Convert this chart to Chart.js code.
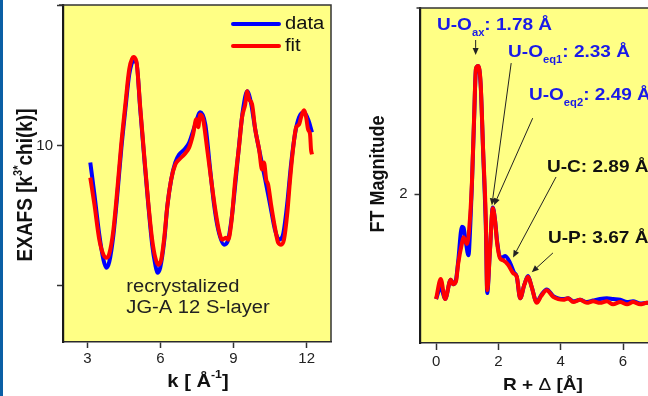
<!DOCTYPE html>
<html><head><meta charset="utf-8">
<script src="https://cdn.jsdelivr.net/npm/chart.js@4/dist/chart.umd.min.js"></script>
<style>
html,body{margin:0;padding:0;width:648px;height:396px;overflow:hidden;background:#fff;}
#strip{position:absolute;left:0;top:0;width:3px;height:396px;background:#0b5fa5;}
#c1{position:absolute;left:0;top:0;}
#c2{position:absolute;left:340px;top:0;}
</style></head><body>
<div id="strip"></div>
<canvas id="c1" width="340" height="396"></canvas>
<canvas id="c2" width="400" height="396"></canvas>
<script>
// ---------- Left panel: EXAFS ----------
const kData = [3.12,3.29,3.49,3.66,3.78,3.90,4.07,4.23,4.39,4.56,4.72,4.89,5.01,5.17,5.34,5.50,5.66,5.79,5.87,5.99,6.16,6.28,6.44,6.61,6.77,6.98,7.18,7.43,7.63,7.84,8.04,8.20,8.37,8.61,8.78,8.94,9.11,9.27,9.39,9.56,9.72,9.89,10.09,10.30,10.50,10.70,10.87,11.03,11.20,11.36,11.52,11.69,11.89,12.06,12.22];
const chiData = [8.79,6.50,3.64,1.86,1.29,1.71,3.64,6.50,9.71,12.57,15.07,16.0,15.93,12.57,9.0,5.79,2.93,1.50,0.93,1.29,3.29,5.64,7.57,8.79,9.36,9.71,10.21,11.5,12.36,11.5,8.29,5.79,4.0,2.93,3.29,5.07,7.93,10.79,12.57,13.86,13.0,11.14,9.36,7.57,5.79,4.0,3.29,3.64,5.79,8.64,10.79,12.0,12.36,11.86,10.93];
const kFit = [3.12,3.29,3.49,3.66,3.78,3.90,4.07,4.23,4.39,4.56,4.72,4.89,5.01,5.17,5.34,5.50,5.66,5.79,5.91,6.03,6.16,6.28,6.44,6.61,6.77,6.98,7.18,7.34,7.47,7.55,7.63,7.75,7.92,8.08,8.25,8.41,8.53,8.70,8.78,8.90,9.07,9.23,9.35,9.48,9.56,9.64,9.76,9.89,10.05,10.17,10.25,10.34,10.42,10.54,10.70,10.83,10.95,11.07,11.20,11.32,11.44,11.57,11.69,11.77,11.89,11.98,12.06,12.14,12.18,12.22];
const chiFit = [7.71,5.79,3.29,2.21,2.0,2.29,4.0,6.86,10.07,12.93,15.43,16.29,16.0,12.71,9.14,5.93,3.29,2.0,1.5,1.86,3.5,5.64,7.57,8.64,9.0,9.36,9.86,10.79,11.86,11.29,12.21,11.86,9.71,7.57,5.43,3.86,3.29,3.43,3.29,4.36,7.57,10.0,12.0,12.93,13.86,13.29,12.93,11.14,9.71,8.29,8.79,7.57,7.21,5.79,4.14,3.07,2.93,3.29,5.07,7.57,9.71,11.29,11.5,12.0,12.5,12.0,11.14,10.79,9.71,9.36];
const kTicks = [3,6,9,12];
const chiTicks = [0,10,20];
const chiTickLabels = ['', '10', ''];
const seriesNames = ['data','fit'];
const sampleLines = ['recrystalized','JG-A 12 S-layer'];

// ---------- Right panel: FT magnitude ----------
const rData = [0.00,0.15,0.29,0.47,0.55,0.64,0.71,0.83,0.88,0.94,1.04,1.10,1.15,1.22,1.28,1.35,1.43,1.51,1.60,1.64,1.73,1.82,1.89,1.96,2.05,2.13,2.22,2.38,2.50,2.59,2.70,2.83,2.95,3.07,3.23,3.37,3.55,3.76,3.92,4.08,4.24,4.40,4.62,4.84,5.04,5.26,5.48,5.68,5.91,6.13,6.32,6.55,6.77,6.95];
const ftData = [0.59,0.75,0.59,0.85,0.79,0.85,1.10,1.56,1.55,1.40,1.18,1.60,2.12,3.00,3.68,3.72,3.47,2.57,1.50,0.67,1.25,1.82,1.66,1.36,1.16,1.15,1.17,1.07,0.95,0.89,0.60,0.78,0.90,0.75,0.55,0.64,0.72,0.63,0.60,0.59,0.60,0.56,0.58,0.55,0.57,0.59,0.60,0.59,0.58,0.55,0.56,0.53,0.54,0.53];
const rFit = [0.00,0.15,0.29,0.47,0.55,0.64,0.71,0.83,0.88,0.99,1.06,1.15,1.22,1.28,1.35,1.43,1.51,1.60,1.64,1.73,1.82,1.89,1.96,2.05,2.15,2.31,2.47,2.59,2.70,2.83,2.95,3.07,3.23,3.37,3.55,3.76,3.92,4.08,4.24,4.40,4.62,4.84,5.04,5.26,5.48,5.68,5.91,6.13,6.32,6.55,6.77,6.95];
const ftFit = [0.59,0.86,0.59,0.85,0.79,0.83,1.07,1.34,1.42,1.33,1.52,2.15,3.03,3.69,3.72,3.49,2.59,1.61,0.71,1.25,1.81,1.65,1.34,1.14,1.11,1.05,0.94,0.89,0.60,0.78,0.89,0.75,0.54,0.63,0.71,0.62,0.59,0.58,0.60,0.55,0.58,0.54,0.56,0.54,0.56,0.52,0.55,0.52,0.55,0.52,0.54,0.53];
const rTicks = [0,2,4,6,8];
const ftTicks = [2];
const ftTickLabels = ['2'];
// shell labels: text, colour, text anchor (R, FT), arrow from (R, FT), arrow to (R, FT)
const shellMain = ['U-O','U-O','U-O','U-C','U-P'];
const shellSub  = ['ax','eq1','eq2','',''];
const shellRest = [': 1.78 Å',': 2.33 Å',': 2.49 Å',': 2.89 Å',': 3.67 Å'];
const shellBlue = [true,true,true,false,false];
const shellTextR  = [0.03,2.31,2.98,3.56,3.59];
const shellTextFT = [4.27,3.91,3.33,2.36,1.41];
const arrowFromR  = [1.27,2.41,3.10,3.85,3.75];
const arrowFromFT = [4.07,3.76,3.02,2.23,1.21];
const arrowToR    = [1.27,1.79,1.86,2.47,3.07];
const arrowToFT   = [3.87,1.85,1.85,1.15,0.95];

const FONT = '"Liberation Sans", Arial, Helvetica, sans-serif';
const SX = 1.12;
const YELLOW = '#ffff85';
const BLUE = '#0000ff', RED = '#ff0000', LBLUE = '#1a1ae8', INK = '#1e1e1e';

function pairs(xs, ys){ return xs.map((x,i)=>({x:x, y:ys[i]})); }

function rich(ctx, parts, x, y, o){
  o = o || {};
  ctx.save();
  ctx.translate(x, y);
  ctx.scale(SX, 1);
  if (o.rotate) ctx.rotate(-Math.PI/2);
  let w = 0;
  parts.forEach(p=>{ ctx.font = (p.weight||o.weight||'bold')+' '+p.size+'px '+FONT; p.w = ctx.measureText(p.t).width; w += p.w; });
  let cx = o.align === 'center' ? -w/2 : 0;
  ctx.textBaseline = 'middle'; ctx.textAlign = 'left';
  ctx.fillStyle = o.color || INK;
  parts.forEach(p=>{ ctx.font = (p.weight||o.weight||'bold')+' '+p.size+'px '+FONT; ctx.fillText(p.t, cx, p.dy||0); cx += p.w; });
  ctx.restore();
}

function arrow(ctx, x1, y1, x2, y2){
  ctx.save();
  ctx.strokeStyle = '#222'; ctx.fillStyle = '#222'; ctx.lineWidth = 1;
  const a = Math.atan2(y2-y1, x2-x1), L = 7, W = 3;
  const bx = x2 - L*Math.cos(a), by = y2 - L*Math.sin(a);
  ctx.beginPath(); ctx.moveTo(x1,y1); ctx.lineTo(bx,by); ctx.stroke();
  ctx.beginPath(); ctx.moveTo(x2,y2);
  ctx.lineTo(bx + W*Math.sin(a), by - W*Math.cos(a));
  ctx.lineTo(bx - W*Math.sin(a), by + W*Math.cos(a));
  ctx.closePath(); ctx.fill();
  ctx.restore();
}

const boxPlugin = {
  id:'box',
  beforeDraw(chart){
    const {ctx, chartArea:a} = chart;
    ctx.save(); ctx.fillStyle = YELLOW; ctx.fillRect(a.left, a.top, a.right-a.left, a.bottom-a.top); ctx.restore();
  },
  beforeDatasetsDraw(chart){
    const {ctx, chartArea:a} = chart;
    ctx.save(); ctx.strokeStyle = '#333'; ctx.lineWidth = 1.5;
    ctx.beginPath(); ctx.moveTo(a.left-4, a.top); ctx.lineTo(a.right, a.top); ctx.lineTo(a.right, a.bottom); ctx.stroke();
    ctx.restore();
  }
};

function fitX(h){ return s=>{ s.height = h; s.paddingLeft = 0; s.paddingRight = 0; }; }
function fitY(w){ return s=>{ s.width = w; s.paddingTop = 0; s.paddingBottom = 0; }; }

const leftText = {
  id:'leftText',
  afterDraw(chart){
    const {ctx, chartArea:a, scales:{x, y}} = chart;
    const cols = [BLUE, RED];
    seriesNames.forEach((n,i)=>{
      const yy = a.top + 19 + i*22;
      ctx.save(); ctx.strokeStyle = cols[i]; ctx.lineWidth = 4; ctx.lineCap='round';
      ctx.beginPath(); ctx.moveTo(a.right-98, yy); ctx.lineTo(a.right-52, yy); ctx.stroke(); ctx.restore();
      rich(ctx, [{t:n, size:18, weight:'normal'}], a.right-46, yy, {color:'#111'});
    });
    sampleLines.forEach((s,i)=>{
      rich(ctx, [{t:s, size:18, weight:'normal'}], x.getPixelForValue(4.6), y.getPixelForValue(-0.07 - 1.5*i), {color:'#222'});
    });
    rich(ctx, [{t:'EXAFS [k', size:19},{t:'3*', size:11, dy:-7},{t:'chi(k)]', size:19}], 26, 185, {rotate:true, align:'center', color:'#111'});
    rich(ctx, [{t:'k [ Å', size:18},{t:'-1', size:11, dy:-7},{t:']', size:18}], 198, 382, {align:'center', color:'#111'});
  }
};

const rightText = {
  id:'rightText',
  afterDraw(chart){
    const {ctx, scales:{x, y}} = chart;
    shellMain.forEach((m,i)=>{
      const col = shellBlue[i] ? LBLUE : '#111';
      const parts = [{t:m, size:17}];
      if (shellSub[i]) parts.push({t:shellSub[i], size:10, dy:8});
      parts.push({t:shellRest[i], size:17});
      rich(ctx, parts, x.getPixelForValue(shellTextR[i]), y.getPixelForValue(shellTextFT[i]), {color:col});
      arrow(ctx, x.getPixelForValue(arrowFromR[i]), y.getPixelForValue(arrowFromFT[i]),
                 x.getPixelForValue(arrowToR[i]), y.getPixelForValue(arrowToFT[i]));
    });
    rich(ctx, [{t:'FT Magnitude', size:18}], 38, 174, {rotate:true, align:'center', color:'#111'});
    rich(ctx, [{t:'R + ', size:17},{t:'Δ', size:17, weight:'normal'},{t:' [Å]', size:17}], 203, 385, {align:'center', color:'#111'});
  }
};

const tickFont = {family:FONT, size:15};
function gridOpts(tl){ return {drawOnChartArea:false, drawTicks:true, tickLength:tl, color:'#333', tickWidth:1.5}; }

new Chart(document.getElementById('c1'), {
  type:'line',
  data:{datasets:[
    {label:seriesNames[0], data:pairs(kData, chiData), borderColor:BLUE, borderWidth:4, pointRadius:0, order:2, cubicInterpolationMode:'monotone'},
    {label:seriesNames[1], data:pairs(kFit, chiFit), borderColor:RED, borderWidth:4, pointRadius:0, order:1, cubicInterpolationMode:'monotone'}
  ]},
  options:{
    responsive:false, animation:false, events:[],
    layout:{padding:{left:0, top:5, right:9, bottom:0}},
    plugins:{legend:{display:false}, tooltip:{enabled:false}},
    scales:{
      x:{type:'linear', min:2, max:13,
        afterBuildTicks:s=>{ s.ticks = kTicks.map(v=>({value:v})); },
        afterFit:fitX(54),
        ticks:{font:tickFont, color:'#222', padding:2, maxRotation:0, callback:v=>String(v)},
        grid:gridOpts(6), border:{display:true, color:'#2a2a2a', width:1.5}},
      y:{type:'linear', min:-4, max:20,
        afterBuildTicks:s=>{ s.ticks = chiTicks.map(v=>({value:v})); },
        afterFit:fitY(63),
        ticks:{font:tickFont, color:'#222', padding:4, callback:(v)=>chiTickLabels[chiTicks.indexOf(v)] || ''},
        grid:gridOpts(6), border:{display:true, color:'#1a1a1a', width:2.2}}
    }
  },
  plugins:[boxPlugin, leftText]
});

new Chart(document.getElementById('c2'), {
  type:'line',
  data:{datasets:[
    {label:seriesNames[0], data:pairs(rData, ftData), borderColor:BLUE, borderWidth:4, pointRadius:0, order:2, cubicInterpolationMode:'monotone'},
    {label:seriesNames[1], data:pairs(rFit, ftFit), borderColor:RED, borderWidth:4, pointRadius:0, order:1, cubicInterpolationMode:'monotone'}
  ]},
  options:{
    responsive:false, animation:false, events:[],
    layout:{padding:{left:0, top:8, right:40, bottom:0}},
    plugins:{legend:{display:false}, tooltip:{enabled:false}},
    scales:{
      x:{type:'linear', min:-0.5, max:8.47,
        afterBuildTicks:s=>{ s.ticks = rTicks.map(v=>({value:v})); },
        afterFit:fitX(53),
        ticks:{font:tickFont, color:'#222', padding:3, maxRotation:0, callback:v=>String(v)},
        grid:gridOpts(7), border:{display:true, color:'#2a2a2a', width:1.5}},
      y:{type:'linear', min:0, max:4.5,
        afterBuildTicks:s=>{ s.ticks = ftTicks.map(v=>({value:v})); },
        afterFit:fitY(80.5),
        ticks:{font:tickFont, color:'#222', padding:7, callback:(v)=>ftTickLabels[ftTicks.indexOf(v)] || ''},
        grid:gridOpts(6), border:{display:true, color:'#1a1a1a', width:2.2}}
    }
  },
  plugins:[boxPlugin, rightText]
});
</script>
</body></html>
